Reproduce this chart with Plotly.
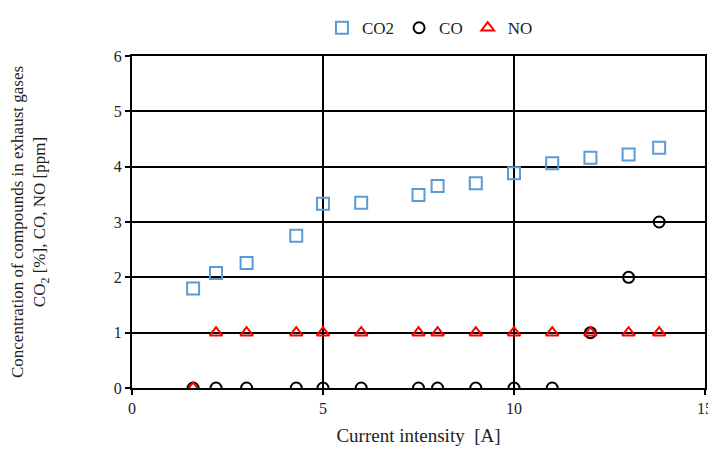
import plotly.graph_objects as go

current = [1.6, 2.2, 3.0, 4.3, 5, 6, 7.5, 8, 9, 10, 11, 12, 13, 13.8]
co2 = [1.8, 2.08, 2.26, 2.75, 3.33, 3.35, 3.49, 3.65, 3.7, 3.88, 4.06, 4.16, 4.22, 4.34]
co = [0, 0, 0, 0, 0, 0, 0, 0, 0, 0, 0, 1, 2, 3]
no = [0, 1, 1, 1, 1, 1, 1, 1, 1, 1, 1, 1, 1, 1]

FONT = "Liberation Serif"

fig = go.Figure()
fig.add_trace(go.Scatter(x=current, y=co2, mode="markers", name="CO2",
                         marker=dict(symbol="square-open", size=12, color="#5B9BD5",
                                     line=dict(width=2, color="#5B9BD5"))))
fig.add_trace(go.Scatter(x=current, y=co, mode="markers", name="CO",
                         marker=dict(symbol="circle-open", size=11, color="black",
                                     line=dict(width=2, color="black"))))
fig.add_trace(go.Scatter(x=current, y=no, mode="markers", name="NO",
                         marker=dict(symbol="triangle-up-open", size=11, color="red",
                                     line=dict(width=2, color="red"))))

fig.update_layout(
    width=708, height=441,
    margin=dict(l=124, r=11, t=48, b=61, autoexpand=False),
    paper_bgcolor="white", plot_bgcolor="white",
    font=dict(family=FONT, size=16, color="#222222"),
    showlegend=True,
    legend=dict(orientation="h", x=0.52, xanchor="center", y=0.995, yanchor="top",
                yref="container", font=dict(size=17, color="#222222"),
                itemwidth=30, tracegroupgap=0),
    xaxis=dict(range=[0, 15], tickvals=[0, 5, 10, 15], showgrid=True,
               gridcolor="black", gridwidth=2, showline=True, linecolor="black",
               linewidth=2, mirror=True, ticks="outside", ticklen=5, tickwidth=2,
               tickcolor="black", zeroline=False, automargin=False,
               tickfont=dict(size=16),
               title=dict(text="Current intensity  [A]", font=dict(size=19), standoff=12)),
    yaxis=dict(range=[0, 6], tickvals=[0, 1, 2, 3, 4, 5, 6], showgrid=True,
               gridcolor="black", gridwidth=2, showline=True, linecolor="black",
               linewidth=2, mirror=True, ticks="outside", ticklen=5, tickwidth=2,
               tickcolor="black", zeroline=False, automargin=False,
               tickfont=dict(size=16),
               title=dict(text="Concentration of compounds in exhaust gases<br>CO<sub>2</sub> [%], CO, NO [ppm]",
                          font=dict(size=17), standoff=66)),
)

fig.write_html("out.html")
